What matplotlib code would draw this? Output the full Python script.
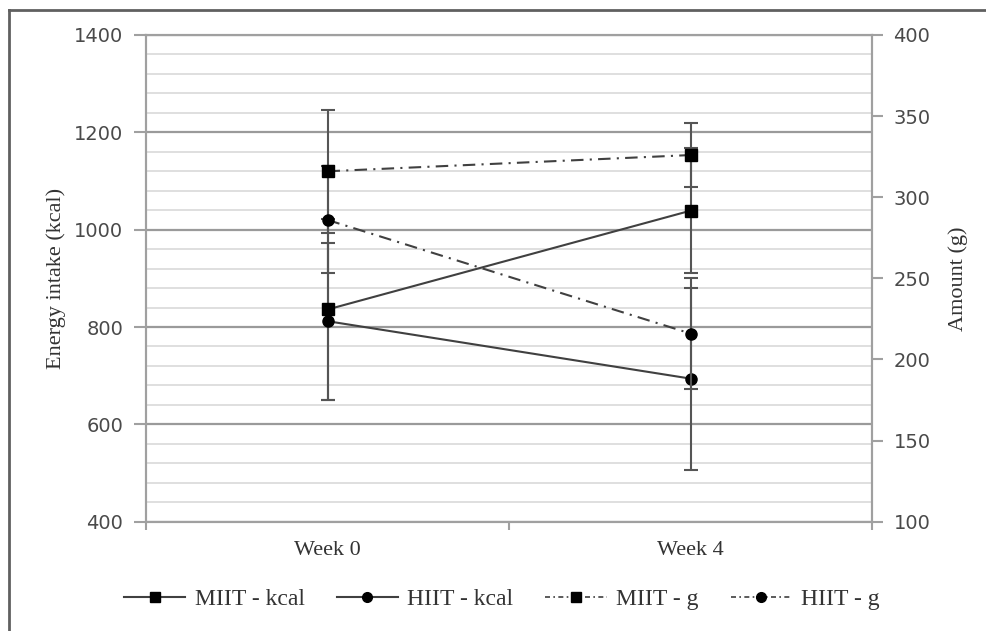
import matplotlib.pyplot as plt
from matplotlib.lines import Line2D
from matplotlib.ticker import MultipleLocator

weeks = ['Week 0', 'Week 4']
miit_kcal = [836, 1039]
miit_kcal_err = [185, 129]
hiit_kcal = [812, 694]
hiit_kcal_err = [161, 187]
miit_g = [316, 326]
miit_g_err = [38, 20]
hiit_g = [286, 216]
hiit_g_err = [33, 34]

line_col = '#404040'
axis_col = '#a0a0a0'
tick_col = '#4a4a4a'
serif = 'Liberation Serif'

fig = plt.figure(figsize=(9.87, 6.31), dpi=100)
ax = fig.add_axes([146 / 987, 1 - 521.7 / 631, (872 - 146) / 987, (521.7 - 35) / 631])
ax2 = ax.twinx()

x = list(range(len(weeks)))

# grid: light minor every 40, darker major every 200
ax.set_ylim(400, 1400)
ax.yaxis.set_major_locator(MultipleLocator(200))
ax.yaxis.set_minor_locator(MultipleLocator(40))
ax.grid(True, which='minor', axis='y', color='#d9d9d9', lw=1.2)
ax.grid(True, which='major', axis='y', color='#9a9a9a', lw=1.6)
ax.set_axisbelow(True)
ax.tick_params(axis='y', which='minor', length=0)

ax2.set_ylim(100, 400)
ax2.yaxis.set_major_locator(MultipleLocator(50))

ax.set_xlim(-0.5, 1.5)
ax.set_xticks([-0.5, 0.5, 1.5])
ax.set_xticklabels([])
ax.set_xticks(x, minor=True)
ax.set_xticklabels(weeks, minor=True, family=serif, fontsize=16, color='#333333')
ax.tick_params(axis='x', which='minor', length=0, pad=14)
ax.tick_params(axis='x', which='major', length=6, color=axis_col, width=1.5)

ax.tick_params(axis='y', which='major', length=9, color=axis_col, width=1.5,
               labelsize=14, labelcolor=tick_col, pad=7.5)
ax2.tick_params(axis='y', length=8, color=axis_col, width=1.5,
                labelsize=14, labelcolor=tick_col, pad=7.5)

for a in (ax, ax2):
    for s in a.spines.values():
        s.set_color(axis_col)
        s.set_linewidth(1.5)

eb = dict(ecolor='#555555', elinewidth=1.5, capsize=5, capthick=1.5, color=line_col, lw=1.5,
          markerfacecolor='black', markeredgecolor='black', zorder=3)

ax.errorbar(x, miit_kcal, yerr=miit_kcal_err, marker='s', ms=8, ls='-', **eb)
ax.errorbar(x, hiit_kcal, yerr=hiit_kcal_err, marker='o', ms=8, ls='-', **eb)
ax2.errorbar(x, miit_g, yerr=miit_g_err, marker='s', ms=8, ls=(0, (6, 3, 1, 3)), **eb)
ax2.errorbar(x, hiit_g, yerr=hiit_g_err, marker='o', ms=8, ls=(0, (6, 3, 1, 3)), **eb)

ax.set_ylabel('Energy intake (kcal)', family=serif, fontsize=16, color='#333333', labelpad=6)
ax2.set_ylabel('Amount (g)', family=serif, fontsize=16, color='#333333', labelpad=13)

handles = [
    Line2D([], [], color=line_col, lw=1.5, marker='s', ms=7, mfc='black', mec='black'),
    Line2D([], [], color=line_col, lw=1.5, marker='o', ms=7, mfc='black', mec='black'),
    Line2D([], [], color=line_col, lw=1.2, ls=(0, (3, 2, 1, 2)), marker='s', ms=7, mfc='black', mec='black'),
    Line2D([], [], color=line_col, lw=1.2, ls=(0, (3, 2, 1, 2)), marker='o', ms=7, mfc='black', mec='black'),
]
labels = ['MIIT - kcal', 'HIIT - kcal', 'MIIT - g', 'HIIT - g']
fig.legend(handles, labels, loc='center', bbox_to_anchor=(502 / 987, 1 - 599 / 631), ncol=4,
           frameon=False, prop={'family': serif, 'size': 17}, handlelength=2.6,
           columnspacing=1.35, handletextpad=0.4, labelcolor='#333333')

# outer frame of the figure (left and top edges visible)
fig.add_artist(Line2D([9 / 987, 9 / 987], [0, 1 - 10 / 631], color='#606060', lw=2))
fig.add_artist(Line2D([9 / 987, 1], [1 - 10 / 631, 1 - 10 / 631], color='#606060', lw=2))

fig.savefig('out.png', dpi=100)
